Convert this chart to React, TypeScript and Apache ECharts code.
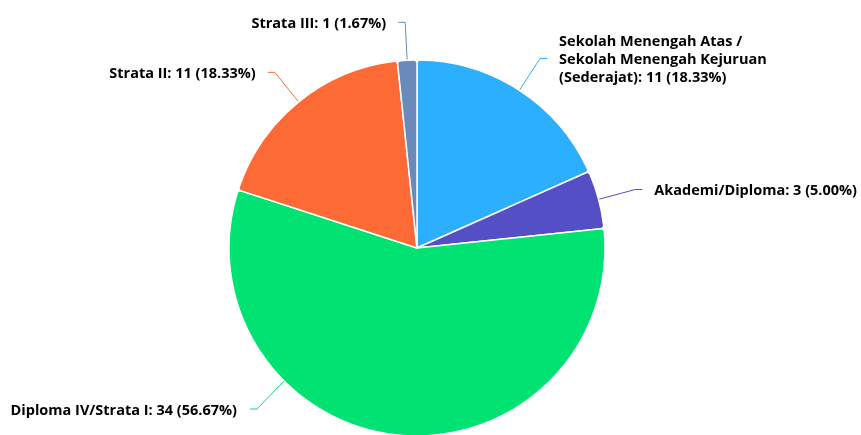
import React, { useEffect, useRef } from "react";
import * as echarts from "echarts";

const categories = [
  "Sekolah Menengah Atas / Sekolah Menengah Kejuruan (Sederajat)",
  "Akademi/Diploma",
  "Diploma IV/Strata I",
  "Strata II",
  "Strata III",
];
const values = [11, 3, 34, 11, 1];
const percents = ["18.33%", "5.00%", "56.67%", "18.33%", "1.67%"];
const colors = ["#2caffe", "#544fc5", "#00e272", "#fe6a35", "#6b8abc"];

const CX = 417;
const CY = 248;
const R = 188;

export default function App() {
  const ref = useRef<HTMLDivElement>(null);
  useEffect(() => {
    if (!ref.current) return;
    const chart = echarts.init(ref.current, undefined, { renderer: "svg" });
    chart.setOption({
      animation: false,
      series: [
        {
          type: "pie",
          center: [CX, CY],
          radius: R,
          startAngle: 90,
          clockwise: true,
          avoidLabelOverlap: false,
          itemStyle: { borderColor: "#ffffff", borderWidth: 1.5, borderRadius: 3 },
          label: {
            show: true,
            position: "outside",
            fontFamily: "'Open Sans', 'Noto Sans', sans-serif",
            fontWeight: "bold",
            fontSize: 14.5,
            color: "#000000",
            lineHeight: 18,
            distanceToLabelLine: 12,
            formatter: (p: any) => {
              const name = String(p.name)
                .replace(" / ", " /\n")
                .replace(" (Sederajat)", "\n(Sederajat)");
              return `${name}: ${p.value} (${percents[p.dataIndex]})`;
            },
          },
          labelLine: {
            show: true,
            length: 38,
            length2: 7,
            lineStyle: { width: 1 },
          },
          labelLayout: (params: any) => {
            if (params.dataIndex !== 2) return {};
            // connector anchored at the lower-left of the pie (225° clockwise from top)
            const a = (225 * Math.PI) / 180;
            const sx = CX + R * Math.sin(a);
            const sy = CY - R * Math.cos(a);
            const ly = 409;
            return {
              x: 237,
              y: ly,
              align: "right",
              verticalAlign: "middle",
              labelLinePoints: [
                [sx, sy],
                [257, ly],
                [250, ly],
              ],
            };
          },
          data: categories.map((c, i) => ({
            name: c,
            value: values[i],
            itemStyle: { color: colors[i] },
            labelLine: { lineStyle: { color: colors[i] } },
          })),
        },
      ],
    });
    return () => chart.dispose();
  }, []);
  return (
    <div
      ref={ref}
      style={{ position: "fixed", left: 0, top: 0, width: 861, height: 435 }}
    />
  );
}
